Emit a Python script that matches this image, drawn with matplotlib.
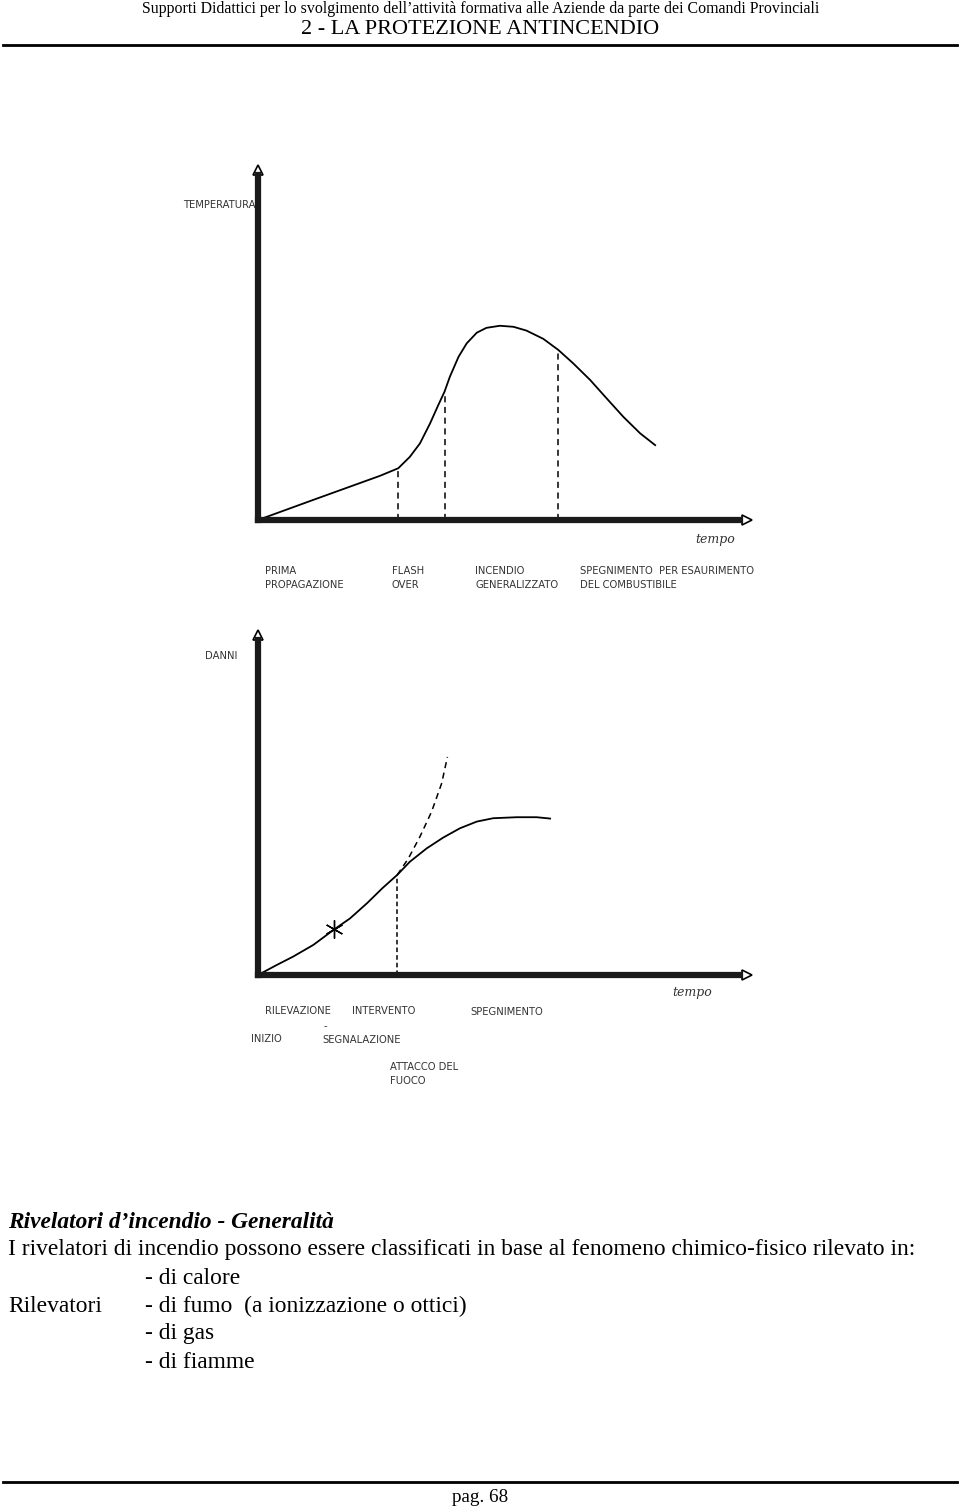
import matplotlib.pyplot as plt

W, H = 960, 1508

# grafico 1 - temperatura / tempo
temp_x = [0, 12.0, 25.3, 29.1, 31.5, 33.6, 35.7, 37.4, 38.7, 39.8, 41.6, 43.3, 45.4, 47.4, 50.2,
          53.0, 55.7, 59.2, 62.3, 65.4, 68.9, 72.3, 75.8, 79.3, 82.4]
temp_y = [0, 6.1, 12.8, 15.0, 18.3, 22.2, 28.0, 33.3, 37.2, 41.5, 47.3, 51.2, 54.3, 55.7, 56.3,
          56.0, 54.9, 52.5, 49.3, 45.4, 40.6, 35.3, 29.9, 25.1, 21.7]
temp_marks_x = [29.1, 38.7, 62.3]
temp_marks_y = [15.0, 37.2, 49.3]
temp_labels = ["PRIMA\nPROPAGAZIONE", "FLASH\nOVER", "INCENDIO\nGENERALIZZATO",
               "SPEGNIMENTO  PER ESAURIMENTO\nDEL COMBUSTIBILE"]

# grafico 2 - danni / tempo
danni_x = [0, 3.9, 7.3, 11.5, 15.8, 19.1, 22.6, 25.8, 28.9, 31.5, 35.0, 38.4, 41.9, 45.4, 48.8,
           53.7, 57.8, 60.6]
danni_y = [0, 3.0, 5.5, 9.0, 13.6, 16.9, 21.4, 25.9, 29.9, 33.8, 37.8, 41.0, 43.8, 45.8, 46.8,
           47.1, 47.1, 46.7]
senza_x = [28.9, 31.2, 33.6, 36.0, 38.1, 39.3]
senza_y = [29.9, 34.8, 41.3, 48.7, 57.2, 65.1]
rilev_x, rilev_y = 15.8, 13.6
interv_x, interv_y = 28.9, 29.9

serif = ['Liberation Serif', 'DejaVu Serif']
sketch = dict(family='DejaVu Sans', fontsize=7.2, color='#333333')
body = 16.9

fig = plt.figure(figsize=(W / 100, H / 100), dpi=100)


def px(x, y):
    return x / W, 1 - y / H


def make_axes(left, bottom, width, height):
    ax = fig.add_axes([left / W, 1 - bottom / H, width / W, height / H])
    ax.set_xlim(0, 100)
    ax.set_ylim(0, 100)
    for s in ['top', 'right']:
        ax.spines[s].set_visible(False)
    for s in ['left', 'bottom']:
        ax.spines[s].set_linewidth(4.5)
        ax.spines[s].set_color('#1a1a1a')
    ax.set_xticks([])
    ax.set_yticks([])
    ax.patch.set_alpha(0)
    # frecce vuote in fondo agli assi
    ax.plot([0], [101.5], marker='^', ms=7, mfc='white', mec='black', mew=1.2, clip_on=False)
    ax.plot([101.5], [0], marker='>', ms=7, mfc='white', mec='black', mew=1.2, clip_on=False)
    return ax


# header
fig.text(*px(481, 9), "Supporti Didattici per lo svolgimento dell\u2019attivit\u00e0 formativa alle Aziende da parte dei Comandi Provinciali",
         ha='center', va='center', family=serif, fontsize=11.4)
fig.text(*px(480, 30), "2 - LA PROTEZIONE ANTINCENDIO", ha='center', va='center', family=serif, fontsize=16)
fig.add_artist(plt.Line2D([3 / W, 957 / W], [1 - 45 / H] * 2, color='black', lw=2))

# grafico 1
ax1 = make_axes(258, 520, 482, 345)
ax1.plot(temp_x, temp_y, color='black', lw=1.3)
ax1.vlines(temp_marks_x, 0, temp_marks_y, colors='black', lw=1.1, linestyles=(0, (4, 3)))
fig.text(*px(183, 205), "TEMPERATURA", ha='left', va='center', **sketch)
fig.text(*px(695, 540), "tempo", ha='left', va='center', family='DejaVu Serif', style='italic',
         fontsize=9, color='#333333')
for lx, lab in zip([265, 392, 475, 580], temp_labels):
    fig.text(*px(lx, 578), lab, ha='left', va='center', linespacing=1.5, **sketch)

# grafico 2
ax2 = make_axes(258, 975, 482, 335)
ax2.plot(danni_x, danni_y, color='black', lw=1.3)
ax2.plot(senza_x, senza_y, color='black', lw=1.1, ls=(0, (4, 3)))
ax2.vlines([interv_x], 0, [interv_y], colors='black', lw=1.1, linestyles=(0, (3, 2)))
ax2.plot([rilev_x], [rilev_y], marker=(6, 2, 0), ms=13, mec='black', mew=1.0)
fig.text(*px(205, 656), "DANNI", ha='left', va='center', **sketch)
fig.text(*px(672, 993), "tempo", ha='left', va='center', family='DejaVu Serif', style='italic',
         fontsize=9, color='#333333')
fig.text(*px(265, 1011), "RILEVAZIONE", ha='left', va='center', **sketch)
fig.text(*px(352, 1011), "INTERVENTO", ha='left', va='center', **sketch)
fig.text(*px(470, 1012), "SPEGNIMENTO", ha='left', va='center', **sketch)
fig.text(*px(324, 1026), "-", ha='left', va='center', **sketch)
fig.text(*px(251, 1039), "INIZIO", ha='left', va='center', **sketch)
fig.text(*px(322, 1040), "SEGNALAZIONE", ha='left', va='center', **sketch)
fig.text(*px(390, 1074), "ATTACCO DEL\nFUOCO", ha='left', va='center', linespacing=1.4, **sketch)

# testo
fig.text(*px(8, 1222), "Rivelatori d\u2019incendio - Generalit\u00e0", ha='left', va='center',
         family=serif, fontsize=16.8, style='italic', weight='bold')
fig.text(*px(8, 1250), "I rivelatori di incendio possono essere classificati in base al fenomeno chimico-fisico rilevato in:",
         ha='left', va='center', family=serif, fontsize=body)
fig.text(*px(145, 1279), "- di calore", ha='left', va='center', family=serif, fontsize=body)
fig.text(*px(8, 1306), "Rilevatori", ha='left', va='center', family=serif, fontsize=body)
fig.text(*px(145, 1306), "- di fumo  (a ionizzazione o ottici)", ha='left', va='center', family=serif, fontsize=body)
fig.text(*px(145, 1334), "- di gas", ha='left', va='center', family=serif, fontsize=body)
fig.text(*px(145, 1362), "- di fiamme", ha='left', va='center', family=serif, fontsize=body)

# footer
fig.add_artist(plt.Line2D([3 / W, 957 / W], [1 - 1482 / H] * 2, color='black', lw=2))
fig.text(*px(480, 1497), "pag. 68", ha='center', va='center', family=serif, fontsize=13.7)

fig.savefig('out.png', dpi=100)
